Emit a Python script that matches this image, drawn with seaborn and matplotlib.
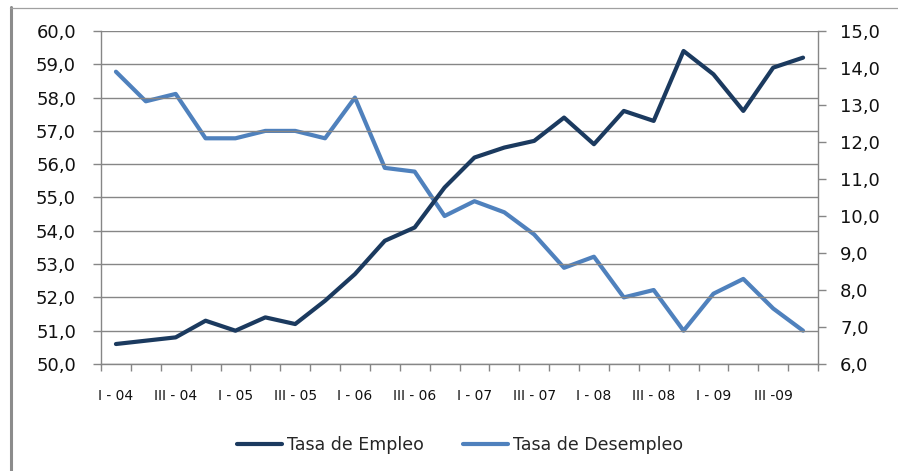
import matplotlib
matplotlib.use("Agg")
import matplotlib.pyplot as plt
import matplotlib.ticker as mticker
from matplotlib.lines import Line2D
import seaborn as sns
import pandas as pd

# ---- data ----
quarters = ["I-04", "II-04", "III-04", "IV-04", "I-05", "II-05", "III-05", "IV-05",
            "I-06", "II-06", "III-06", "IV-06", "I-07", "II-07", "III-07", "IV-07",
            "I-08", "II-08", "III-08", "IV-08", "I-09", "II-09", "III-09", "IV-09"]
tasa_empleo = [50.6, 50.7, 50.8, 51.3, 51.0, 51.4, 51.2, 51.9, 52.7, 53.7, 54.1, 55.3,
               56.2, 56.5, 56.7, 57.4, 56.6, 57.6, 57.3, 59.4, 58.7, 57.6, 58.9, 59.2]
tasa_desempleo = [13.9, 13.1, 13.3, 12.1, 12.1, 12.3, 12.3, 12.1, 13.2, 11.3, 11.2, 10.0,
                  10.4, 10.1, 9.5, 8.6, 8.9, 7.8, 8.0, 6.9, 7.9, 8.3, 7.5, 6.9]
tick_labels = ["I - 04", "III - 04", "I - 05", "III - 05", "I - 06", "III - 06",
               "I - 07", "III - 07", "I - 08", "III - 08", "I - 09", "III -09"]
left_ticks = [50, 51, 52, 53, 54, 55, 56, 57, 58, 59, 60]
right_ticks = [6, 7, 8, 9, 10, 11, 12, 13, 14, 15]

df = pd.DataFrame({"idx": range(len(quarters)), "trimestre": quarters,
                   "empleo": tasa_empleo, "desempleo": tasa_desempleo})

sns.set_style("white")
plt.rcParams["font.family"] = ["DejaVu Sans"]

DARK = "#1B3A5F"
LIGHT = "#4F81BD"
GRID = "#868686"

fig = plt.figure(figsize=(8.98, 4.71), dpi=100)
ax = fig.add_axes([101 / 898, 1 - 364 / 471, (818 - 101) / 898, (364 - 31) / 471])
ax2 = ax.twinx()

sns.lineplot(data=df, x="idx", y="desempleo", ax=ax2, color=LIGHT, linewidth=3.0,
             sort=False, label="Tasa de Desempleo", legend=False)
sns.lineplot(data=df, x="idx", y="empleo", ax=ax, color=DARK, linewidth=3.0,
             sort=False, label="Tasa de Empleo", legend=False)
# draw employment above unemployment
ax.set_zorder(ax2.get_zorder() + 1)
ax.patch.set_visible(False)

n = len(quarters)
ax.set_xlim(-0.5, n - 0.5)
ax.set_ylim(50, 60)
ax2.set_ylim(6, 15)

fmt = mticker.FuncFormatter(lambda v, p: f"{v:.1f}".replace(".", ","))
ax.set_yticks(left_ticks)
ax.yaxis.set_major_formatter(fmt)
ax2.set_yticks(right_ticks)
ax2.yaxis.set_major_formatter(fmt)

ax.set_xticks(list(range(0, n, 2)))
ax.set_xticklabels(tick_labels)
ax.set_xticks([i - 0.5 for i in range(n + 1)], minor=True)
ax.tick_params(axis="x", which="major", bottom=True, length=0, pad=18, labelsize=10,
               labelcolor="#111111")
ax.tick_params(axis="x", which="minor", bottom=True, length=5, color=GRID, width=1)
ax.tick_params(axis="y", left=True, right=False, length=6, color=GRID, width=1, pad=12,
               labelsize=13, labelcolor="#111111")
ax2.tick_params(axis="y", right=True, left=False, length=6, color=GRID, width=1, pad=10,
                labelsize=13, labelcolor="#111111")

ax.grid(axis="y", color=GRID, linewidth=1)
ax.grid(axis="x", visible=False)
ax2.grid(False)
ax.set_xlabel("")
ax.set_ylabel("")
ax2.set_ylabel("")

for a in (ax, ax2):
    a.spines["top"].set_visible(False)
    for s in ("left", "right", "bottom"):
        a.spines[s].set_color(GRID)
        a.spines[s].set_linewidth(1)
ax.spines["right"].set_visible(False)
ax2.spines["left"].set_visible(False)
ax2.spines["bottom"].set_visible(False)

handles = [Line2D([], [], color=DARK, linewidth=3.0), Line2D([], [], color=LIGHT, linewidth=3.0)]
fig.legend(handles, ["Tasa de Empleo", "Tasa de Desempleo"], loc="center",
           bbox_to_anchor=(0.5 + 11 / 898, 1 - 445 / 471), ncol=2, frameon=False,
           fontsize=12.5, handlelength=2.6, handletextpad=0.25, columnspacing=2.3)

# outer frame (left thick, top thin)
fig.add_artist(Line2D([10.5 / 898, 10.5 / 898], [0, 1 - 7 / 471], color="#8C8C8C",
                      linewidth=2.2, transform=fig.transFigure))
fig.add_artist(Line2D([10 / 898, 1], [1 - 7.5 / 471, 1 - 7.5 / 471], color="#A0A0A0",
                      linewidth=0.9, transform=fig.transFigure))

fig.savefig("out.png", dpi=100)
